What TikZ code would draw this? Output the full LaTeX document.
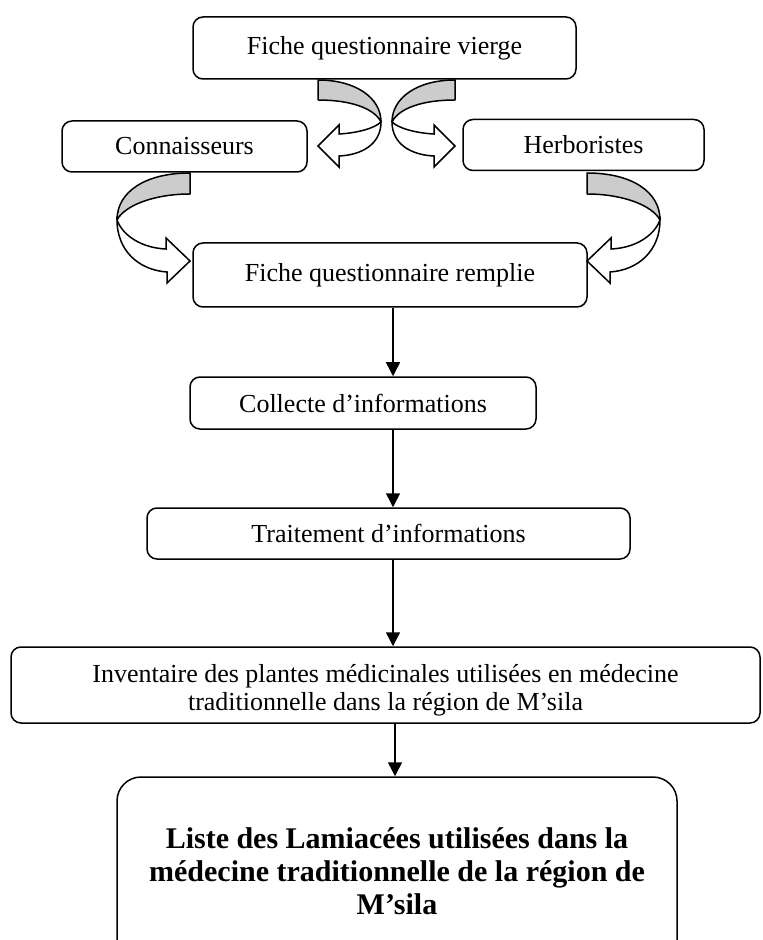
\documentclass[tikz,border=0pt]{standalone}
\usepackage{fontspec}
\setmainfont{Liberation Serif}
\usetikzlibrary{arrows.meta}
\definecolor{backgray}{HTML}{CCCCCC}
\begin{document}
\begin{tikzpicture}[x=0.5pt,y=-0.5pt,
  box/.style={draw, line width=0.75pt, rounded corners=5pt, align=center,
    font=\fontsize{13}{14}\selectfont, inner sep=0pt},
  boxtext/.style={align=center, font=\fontsize{13}{14}\selectfont, inner sep=0pt},
  flow/.style={line width=0.75pt, -{Triangle[length=7pt,width=7pt]}},
  ribbonback/.style={draw, line width=0.75pt, fill=backgray, line join=round},
  ribbonfront/.style={draw, line width=0.75pt, fill=white, line join=miter},
  toparrow/.pic={
    \path[ribbonback] (318,80) .. controls (356,80) and (381,98) .. (381,122)
      .. controls (374,108) and (350,100) .. (318,100) -- cycle;
    \path[ribbonfront] (381,122) .. controls (381,144) and (362,155) .. (339,156)
      -- (339,167) -- (318,146) -- (339,125) -- (339,134)
      .. controls (358,133) and (375,128) .. (381,122) -- cycle;
  },
  sidearrow/.pic={
    \path[ribbonback] (190,173) .. controls (145,173) and (117,192) .. (117,220)
      .. controls (125,205) and (155,194) .. (190,194) -- cycle;
    \path[ribbonfront] (117,220) .. controls (117,250) and (138,270) .. (167,272)
      -- (167,283) -- (190,261) -- (166,238) -- (166,249)
      .. controls (142,248) and (123,236) .. (117,220) -- cycle;
  }
]
\useasboundingbox (0,0) rectangle (763,940);

\node[box, minimum width=191.5pt, minimum height=31pt] (vierge) at (384.5,48) {Fiche questionnaire vierge};
\node[box, minimum width=122.5pt, minimum height=25.5pt] (conn) at (184.5,146.5) {Connaisseurs};
\node[box, minimum width=120.5pt, minimum height=25.5pt] (herb) at (583.5,145) {Herboristes};
\node[box, minimum width=197pt, minimum height=32pt] (remplie) at (390,275) {Fiche questionnaire remplie};
\node[box, minimum width=173pt, minimum height=26pt] (collecte) at (363,403) {Collecte d’informations};
\node[box, minimum width=241.5pt, minimum height=25.5pt] (traite) at (388.5,533.5) {Traitement d’informations};
\node[box, minimum width=374.5pt, minimum height=38pt] (invent) at (385.5,685) {};
\node[boxtext] (inventtext) at ([yshift=-2.5pt]invent.center)
  {Inventaire des plantes médicinales utilisées en médecine\\traditionnelle dans la région de M’sila};
\node[box, rounded corners=12pt, minimum width=280pt, minimum height=94pt,
  font=\fontsize{15}{16.5}\selectfont\bfseries] (liste) at (397,871)
  {Liste des Lamiacées utilisées dans la\\médecine traditionnelle de la région de\\M’sila};

\pic at (0,0) {toparrow};
\pic[xscale=-1] at (773,0) {toparrow};
\pic at (0,0) {sidearrow};
\pic[xscale=-1] at (777,0) {sidearrow};

\coordinate (ax) at (393,0);
\coordinate (bx) at (395,0);
\draw[flow] (remplie.south -| ax) -- (collecte.north -| ax);
\draw[flow] (collecte.south -| ax) -- (traite.north -| ax);
\draw[flow] (traite.south -| ax) -- (invent.north -| ax);
\draw[flow] (invent.south -| bx) -- (liste.north -| bx);
\end{tikzpicture}
\end{document}
